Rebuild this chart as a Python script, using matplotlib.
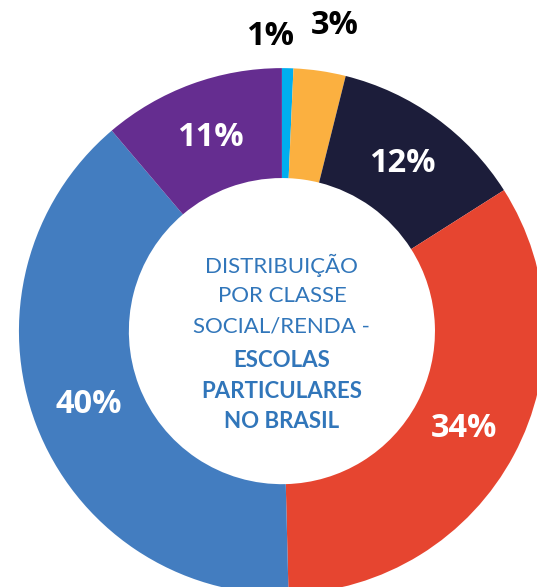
import numpy as np
import matplotlib
matplotlib.use("Agg")
import matplotlib.pyplot as plt

# share of private schools by social class / income
classes = ["A", "B", "C", "D", "E", "F"]
shares = [0.7, 3.2, 12.1, 33.6, 39.2, 11.2]
share_labels = ["1%", "3%", "12%", "34%", "40%", "11%"]
colors = ["#00AEEF", "#FBB040", "#1C1D3A", "#E64530", "#437DC0", "#652D90"]

center_lines = ["DISTRIBUIÇÃO", "POR CLASSE", "SOCIAL/RENDA -",
                "ESCOLAS", "PARTICULARES", "NO BRASIL"]
center_bold = [False, False, False, True, True, True]

fig = plt.figure(figsize=(5.37, 5.87), dpi=100)
ax = fig.add_axes([0, 0, 1, 1])

wedges, _ = ax.pie(shares, colors=colors, startangle=90, counterclock=False,
                   radius=1.0, wedgeprops=dict(width=0.418, linewidth=0))

ax.set_aspect("auto")
ax.set_xlim(-1.072, 0.970)
ax.set_ylim(-0.973, 1.259)
ax.axis("off")

# percentage labels
for i, w in enumerate(wedges):
    ang = np.deg2rad((w.theta1 + w.theta2) / 2)
    if shares[i] < 5:
        # small slices: label outside, black
        r = 1.12 if i == 0 else 1.18
        ang = ang + (np.deg2rad(3.5) if i == 0 else -np.deg2rad(1.5))
        x, y = r * np.cos(ang), r * np.sin(ang)
        ax.text(x, y, share_labels[i], ha="center", va="center",
                fontsize=23.5, fontweight="bold", color="black",
                family="Open Sans")
    else:
        r = 0.785
        x, y = r * np.cos(ang), r * np.sin(ang)
        ax.text(x, y, share_labels[i], ha="center", va="center",
                fontsize=23.5, fontweight="bold", color="white",
                family="Open Sans")

# centre title
step = 30.5
for k, line in enumerate(center_lines):
    py = 265 + k * step + (4 if center_bold[k] else 0)
    ax.text(0, (331 - py) / 263, line, ha="center", va="center",
            fontsize=16, color="#3176BA", family="Lato",
            fontweight="bold" if center_bold[k] else "normal")

fig.savefig("out.png", dpi=100)
